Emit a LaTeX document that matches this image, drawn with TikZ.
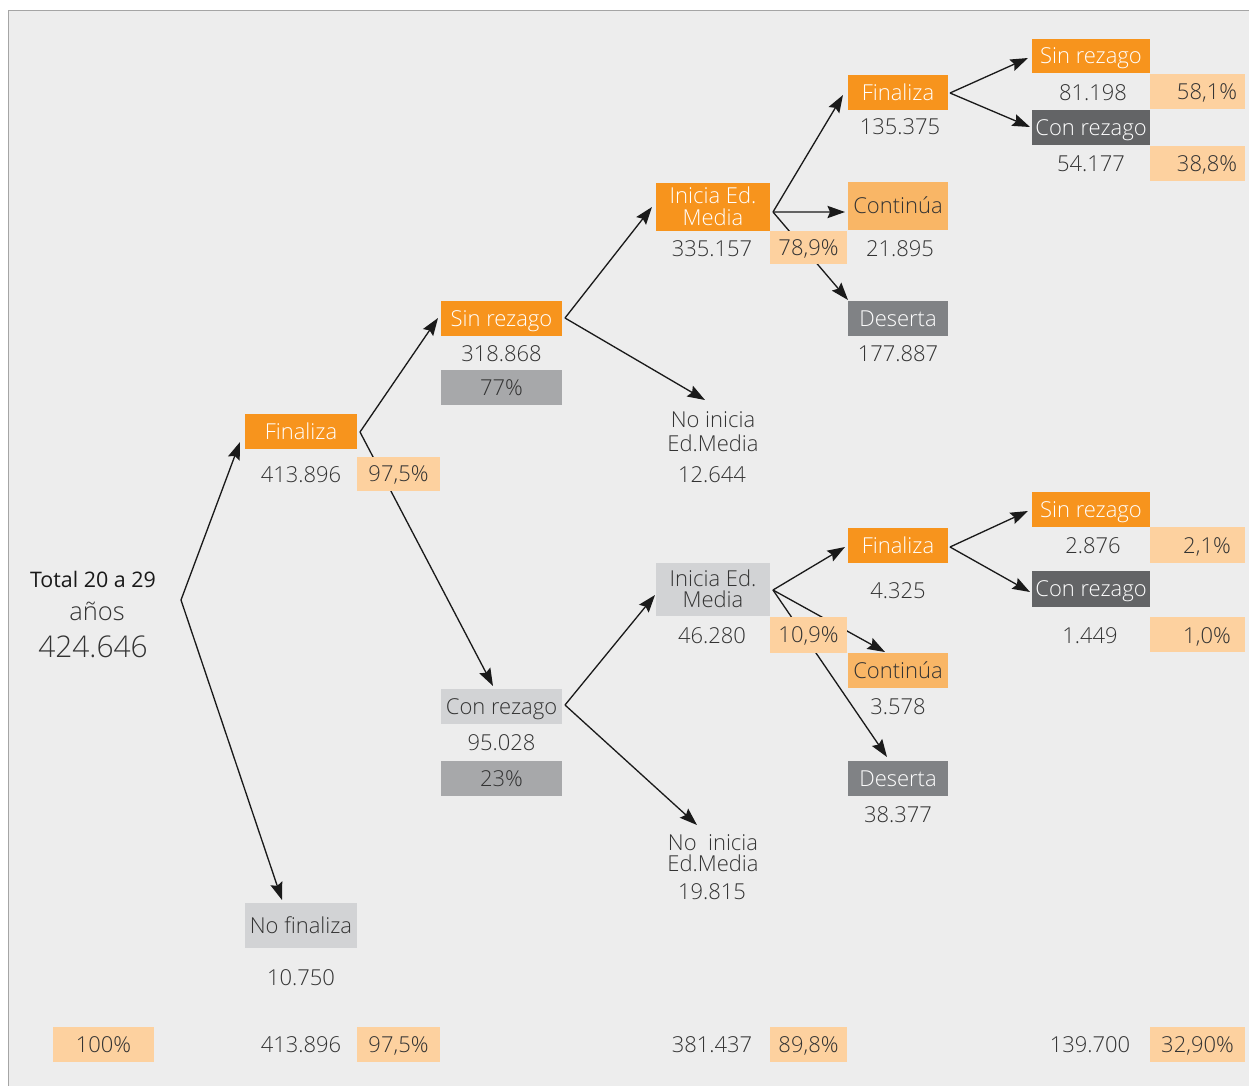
\documentclass[tikz,border=0pt]{standalone}
\usepackage{fontspec}
\setmainfont{Open Sans Light}
\newfontfamily\regfont{Open Sans}
\usetikzlibrary{arrows.meta}
\pgfdeclarelayer{bg}
\pgfdeclarelayer{edges}
\pgfsetlayers{bg,edges,main}
\definecolor{pagebg}{HTML}{EDEDED}
\definecolor{frameln}{HTML}{A5A5A5}
\definecolor{orng}{HTML}{F7941D}
\definecolor{pctc}{HTML}{FDD19F}
\definecolor{midor}{HTML}{F9B666}
\definecolor{ltgray}{HTML}{D2D3D5}
\definecolor{pctgray}{HTML}{A7A8AA}
\definecolor{dkgray}{HTML}{808285}
\definecolor{dkgrayb}{HTML}{636466}
\definecolor{txt}{HTML}{333333}
\definecolor{lnc}{HTML}{1A1A1A}
\begin{document}
\begin{tikzpicture}[x=0.02cm,y=-0.02cm,
  base/.style={font=\fontsize{12.5}{13}\selectfont, text=txt, inner sep=0pt, outer sep=0pt, text height=8.9pt, text depth=0pt},
  ob/.style={base, fill=orng, text=white},
  lb/.style={base, fill=ltgray},
  db/.style={base, fill=dkgray, text=white},
  dbb/.style={base, fill=dkgrayb, text=white},
  cb/.style={base, fill=midor},
  pb/.style={base, fill=pctc},
  gb/.style={base, fill=pctgray},
  num/.style={base},
  hA/.style={minimum height=0.7cm},
  hB/.style={minimum height=0.96cm},
  wA/.style={minimum width=2.24cm},
  wB/.style={minimum width=2.42cm},
  wC/.style={minimum width=2.28cm},
  wD/.style={minimum width=2.0cm},
  wE/.style={minimum width=2.36cm},
  pA/.style={minimum width=1.66cm},
  pC/.style={minimum width=1.54cm},
  pE/.style={minimum width=1.9cm},
  arr/.style={draw=lnc, line width=0.75pt, -{Stealth[length=10pt,width=7pt,inset=1.5pt]}}
]
\useasboundingbox (0,0) rectangle (1249,1086);
\begin{pgfonlayer}{bg}
\fill[white] (0,0) rectangle (1249,1086);
\fill[pagebg] (8,10) rectangle (1249,1086);
\draw[frameln, line width=1pt] (8.5,1086) -- (8.5,10.5) -- (1249,10.5);
\end{pgfonlayer}

% root
\node[base, font=\regfont\fontsize{12.2}{13}\selectfont, text=black!90, text height=8.7pt] (tot1) at (93,580) {Total 20 a 29};
\node[base, font=\fontsize{14.5}{15}\selectfont, text height=7.5pt] (tot2) at (97,614) {años};
\node[base, font=\fontsize{17}{18}\selectfont, text height=12.1pt] (tot3) at (93,647) {424.646};
\coordinate (root) at (181,600);

% level 1
\node[ob, wA, hA] (fin1) at (301,431.5) {Finaliza};
\node[num] (fin1n) at (301,475) {413.896};
\node[pb, pA, minimum height=0.68cm] (fin1p) at (398.5,474) {97,5\%};
\node[lb, wA, minimum height=0.9cm] (nofin) at (301,925.5) {No finaliza};
\node[num] (nofinn) at (301,978) {10.750};

% level 2
\node[ob, wB, hA] (sinr2) at (501.5,318.5) {Sin rezago};
\node[num] (sinr2n) at (501.5,354) {318.868};
\node[gb, wB, hA] (sinr2p) at (501.5,387.5) {77\%};
\node[lb, wB, hA] (conr2) at (501.5,706.5) {Con rezago};
\node[num] (conr2n) at (501.5,743) {95.028};
\node[gb, wB, hA] (conr2p) at (501.5,778.5) {23\%};

% level 3 top
\node[ob, wC, hB, align=center, font=\fontsize{12.5}{12.5}\selectfont, text height=21.4pt] (ini3) at (713,206.5) {Inicia Ed.\\Media};
\node[num] (ini3n) at (712,249) {335.157};
\node[pb, pC, minimum height=0.66cm] (ini3p) at (808.5,247.5) {78,9\%};
\node[base, align=center, font=\fontsize{12.5}{13.6}\selectfont, text height=22.5pt] (ni1) at (713,432) {No inicia\\Ed.Media};
\node[num] (ni1n) at (712,475) {12.644};

% level 3 bottom
\node[lb, wC, minimum height=1.06cm, align=center, font=\fontsize{12.5}{11.9}\selectfont, text height=20.8pt] (ini3b) at (713,589.5) {Inicia Ed.\\Media};
\node[num] (ini3bn) at (712,636) {46.280};
\node[pb, pC, minimum height=0.72cm] (ini3bp) at (808.5,635) {10,9\%};
\node[base, align=center, font=\fontsize{12.5}{11.9}\selectfont, text height=20.8pt] (ni2) at (713,853.5) {No\ \ inicia\\Ed.Media};
\node[num] (ni2n) at (712,892) {19.815};

% level 4 top
\node[ob, wD, hA] (fin4) at (898,92.5) {Finaliza};
\node[num] (fin4n) at (900,127) {135.375};
\node[cb, wD, hB] (cont4) at (898,206) {Continúa};
\node[num] (cont4n) at (900,249) {21.895};
\node[db, wD, hA] (des4) at (898,318.5) {Deserta};
\node[num] (des4n) at (898,354) {177.887};

% level 4 bottom
\node[ob, wD, hA] (fin4b) at (898,545.5) {Finaliza};
\node[num] (fin4bn) at (898,591) {4.325};
\node[cb, wD, hA] (cont4b) at (898,670.5) {Continúa};
\node[num] (cont4bn) at (898,707) {3.578};
\node[db, wD, hA] (des4b) at (898,778.5) {Deserta};
\node[num] (des4bn) at (898,815) {38.377};

% level 5 top
\node[ob, wE, minimum height=0.68cm] (sinr5) at (1091,56) {Sin rezago};
\node[num] (sinr5n) at (1093,93) {81.198};
\node[pb, pE, hA] (sinr5p) at (1197.5,91.5) {};
\node[base] (sinr5pt) at (1207,92) {58,1\%};
\node[dbb, wE, hA] (conr5) at (1091,127.5) {Con rezago};
\node[num] (conr5n) at (1091,164) {54.177};
\node[pb, pE, hA] (conr5p) at (1197.5,163.5) {};
\node[base] (conr5pt) at (1207,164) {38,8\%};

% level 5 bottom
\node[ob, wE, hA] (sinr5b) at (1091,509.5) {Sin rezago};
\node[num] (sinr5bn) at (1093,546) {2.876};
\node[pb, pE, minimum height=0.72cm] (sinr5bp) at (1197.5,545) {};
\node[base] (sinr5bpt) at (1207,546) {2,1\%};
\node[dbb, wE, minimum height=0.72cm] (conr5b) at (1091,589) {Con rezago};
\node[num] (conr5bn) at (1090,636) {1.449};
\node[pb, pE, hA] (conr5bp) at (1197.5,634.5) {};
\node[base] (conr5bpt) at (1207,636) {1,0\%};

% bottom row
\node[pb, minimum width=2.02cm, hA] (b1) at (103.5,1044.5) {100\%};
\node[num] (b2) at (301,1045) {413.896};
\node[pb, pA, hA] (b2p) at (398.5,1044.5) {97,5\%};
\node[num] (b3) at (712,1045) {381.437};
\node[pb, pC, hA] (b3p) at (808.5,1044.5) {89,8\%};
\node[num] (b4) at (1090,1045) {139.700};
\node[pb, pE, hA] (b4p) at (1197.5,1044.5) {32,90\%};

\begin{pgfonlayer}{edges}
\draw[arr] (root) -- ([shift={(-61,10.5)}]fin1.center);
\draw[arr] (root) -- ([shift={(-19,-25.5)}]nofin.center);
\draw[arr] ([shift={(59,0.5)}]fin1.center) -- ([shift={(-63.5,-0.5)}]sinr2.center);
\draw[arr] ([shift={(59,0.5)}]fin1.center) -- ([shift={(-8.5,-20.5)}]conr2.center);
\draw[arr] ([shift={(63.5,-0.5)}]sinr2.center) -- ([shift={(-61,0.5)}]ini3.center);
\draw[arr] ([shift={(63.5,-0.5)}]sinr2.center) -- ([shift={(-8,-32)}]ni1.center);
\draw[arr] ([shift={(63.5,-1.5)}]conr2.center) -- ([shift={(-58,5.5)}]ini3b.center);
\draw[arr] ([shift={(63.5,-1.5)}]conr2.center) -- ([shift={(-16,-28.5)}]ni2.center);
\draw[arr] ([shift={(60,5.5)}]ini3.center) -- ([shift={(-55,2.5)}]fin4.center);
\draw[arr] ([shift={(60,5.5)}]ini3.center) -- ([shift={(-53,6)}]cont4.center);
\draw[arr] ([shift={(60,5.5)}]ini3.center) -- ([shift={(-50,-18.5)}]des4.center);
\draw[arr] ([shift={(60,0.5)}]ini3b.center) -- ([shift={(-53,1.5)}]fin4b.center);
\draw[arr] ([shift={(60,0.5)}]ini3b.center) -- ([shift={(-13,-18.5)}]cont4b.center);
\draw[arr] ([shift={(60,0.5)}]ini3b.center) -- ([shift={(-11,-21.5)}]des4b.center);
\draw[arr] ([shift={(52,0.5)}]fin4.center) -- ([shift={(-63,2)}]sinr5.center);
\draw[arr] ([shift={(52,0.5)}]fin4.center) -- ([shift={(-61,-0.5)}]conr5.center);
\draw[arr] ([shift={(52,1.5)}]fin4b.center) -- ([shift={(-63,1.5)}]sinr5b.center);
\draw[arr] ([shift={(52,1.5)}]fin4b.center) -- ([shift={(-61,3)}]conr5b.center);
\end{pgfonlayer}
\end{tikzpicture}
\end{document}
